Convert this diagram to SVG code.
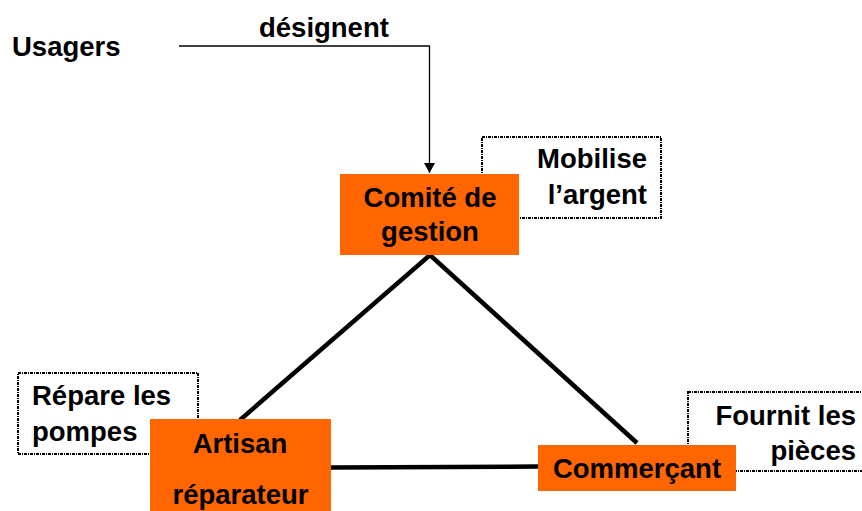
<svg xmlns="http://www.w3.org/2000/svg" width="862" height="511" viewBox="0 0 862 511">
<style>
text{font-family:"Liberation Sans",Arial,sans-serif;font-weight:bold;font-size:27.5px;fill:#000}
.box{fill:#FF6600;stroke:none}
.note{fill:#fff;stroke:#000;stroke-width:2;stroke-dasharray:3 1 1 1}
.thick{stroke:#000;stroke-width:4.5;fill:none}
.thin{stroke:#000;stroke-width:1.3;fill:none}
.m{text-anchor:middle}
.e{text-anchor:end}
</style>
<defs>
<marker id="ah" viewBox="0 0 10 11" refX="10" refY="5.5" markerWidth="10" markerHeight="11" markerUnits="userSpaceOnUse" orient="auto">
<path d="M0,0 L10,5.5 L0,11 Z" fill="#000"/>
</marker>
</defs>
<rect width="862" height="511" fill="#fff"/>
<g id="usagers"><text x="12" y="56">Usagers</text></g>
<g id="note-mobilise"><rect class="note" x="482" y="137" width="179" height="81"/><text class="e" x="647" y="168">Mobilise</text><text class="e" x="647" y="204">l’argent</text></g>
<g id="note-repare"><rect class="note" x="18" y="373" width="180" height="81"/><text x="32" y="405">Répare les</text><text x="32" y="441">pompes</text></g>
<g id="note-fournit"><rect class="note" x="688" y="392" width="180" height="79"/><text class="e" x="856" y="425">Fournit les</text><text class="e" x="856" y="460">pièces</text></g>
<g id="connectors">
<path class="thin" d="M179,46 H429.5 V173" marker-end="url(#ah)"/>
<text x="259" y="37">désignent</text>
<line class="thick" x1="430" y1="255" x2="240" y2="420"/>
<line class="thick" x1="430" y1="255" x2="637" y2="443"/>
<line class="thick" x1="331" y1="467.5" x2="538" y2="466.5"/>
</g>
<g id="comite"><rect class="box" x="340" y="174" width="179" height="81"/><text class="m" x="430" y="207">Comité de</text><text class="m" x="430" y="241">gestion</text></g>
<g id="artisan"><rect class="box" x="150" y="419" width="181" height="100"/><text class="m" x="240" y="453">Artisan</text><text class="m" x="240.5" y="504">réparateur</text></g>
<g id="commercant"><rect class="box" x="538" y="445" width="198" height="46"/><text class="m" x="637" y="478">Commerçant</text></g>
</svg>
